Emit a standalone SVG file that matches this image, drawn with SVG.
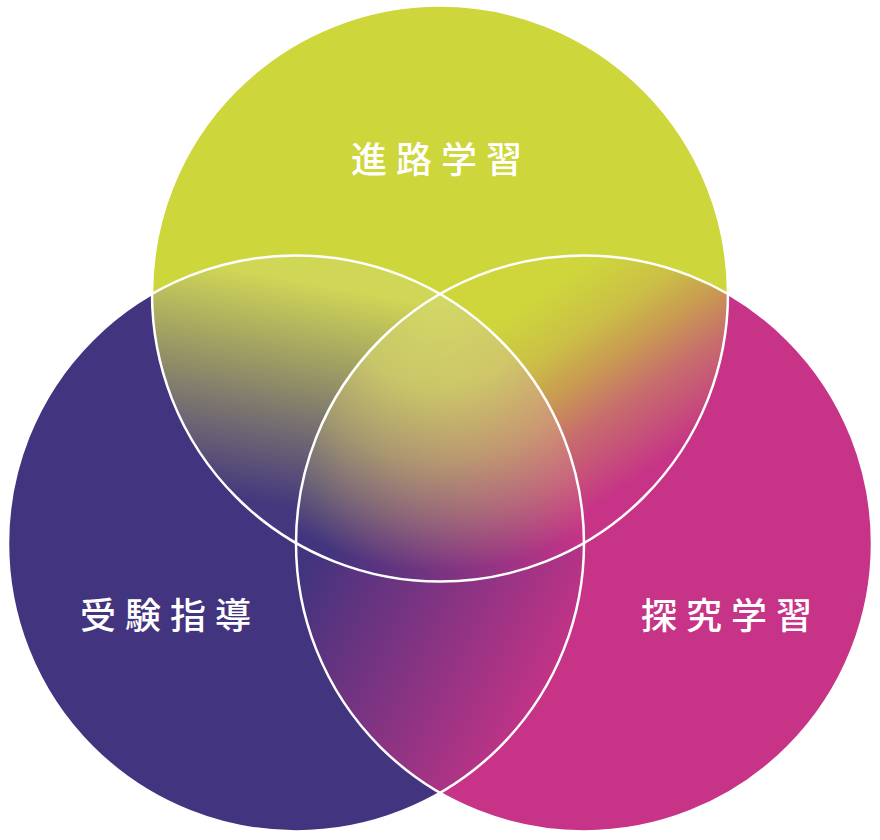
<svg xmlns="http://www.w3.org/2000/svg" width="880" height="840" viewBox="0 0 880 840">
  <style>
    .label { font-family: "Noto Sans CJK JP", "Noto Sans CJK SC", sans-serif; font-size: 36px; font-weight: 500; fill: #ffffff; letter-spacing: 9px; }
    .outline { fill: none; stroke: #ffffff; stroke-width: 2.5; }
  </style>
  <defs>
    <linearGradient id="gTL" gradientUnits="userSpaceOnUse" x1="320" y1="285" x2="280" y2="505">
      <stop offset="0" stop-color="#D0D656"/>
      <stop offset="0.45" stop-color="#918E67"/>
      <stop offset="0.6" stop-color="#7B756F"/>
      <stop offset="1" stop-color="#45387E"/>
    </linearGradient>
    <linearGradient id="gTR" gradientUnits="userSpaceOnUse" x1="593" y1="260" x2="708" y2="433">
      <stop offset="0" stop-color="#CED63C"/>
      <stop offset="0.25" stop-color="#CBC046"/>
      <stop offset="0.45" stop-color="#C99A52"/>
      <stop offset="0.65" stop-color="#C76E6C"/>
      <stop offset="0.85" stop-color="#C64D7B"/>
      <stop offset="1" stop-color="#C63387"/>
    </linearGradient>
    <linearGradient id="gB" gradientUnits="userSpaceOnUse" x1="305" y1="570" x2="554" y2="695">
      <stop offset="0" stop-color="#43347E"/>
      <stop offset="1" stop-color="#C63387"/>
    </linearGradient>
    <linearGradient id="gC" gradientUnits="userSpaceOnUse" x1="330" y1="560" x2="575" y2="500">
      <stop offset="0" stop-color="#43347E"/>
      <stop offset="1" stop-color="#C63387"/>
    </linearGradient>
    <radialGradient id="gY" gradientUnits="userSpaceOnUse" cx="440" cy="290" r="290">
      <stop offset="0" stop-color="#D3DA65" stop-opacity="1"/>
      <stop offset="0.34" stop-color="#D3DA65" stop-opacity="0.88"/>
      <stop offset="0.59" stop-color="#D3DA65" stop-opacity="0.6"/>
      <stop offset="0.79" stop-color="#D3DA65" stop-opacity="0.3"/>
      <stop offset="0.97" stop-color="#D3DA65" stop-opacity="0"/>
    </radialGradient>
  </defs>

  <g id="node-shinro">
    <circle cx="440" cy="293.6" r="288" fill="#CDD63A"/>
    <text class="label" x="351" y="173">進路学習</text>
  </g>
  <g id="node-juken">
    <circle cx="296" cy="543.4" r="288" fill="#42347E"/>
    <text class="label" x="80" y="629">受験指導</text>
  </g>
  <g id="node-tankyu">
    <circle cx="584" cy="543.4" r="288" fill="#C63387"/>
    <text class="label" x="641" y="629">探究学習</text>
  </g>

  <g id="overlaps">
    <path d="M152,293.6 A288,288 0 0 0 296,543.4 A288,288 0 0 1 440,293.6 A288,288 0 0 0 152,293.6 Z" fill="url(#gTL)"/>
    <path d="M440,293.6 A288,288 0 0 1 728,293.6 A288,288 0 0 1 584,543.4 A288,288 0 0 0 440,293.6 Z" fill="url(#gTR)"/>
    <path d="M296,543.4 A288,288 0 0 0 584,543.4 A288,288 0 0 1 440,792.4 A288,288 0 0 1 296,543.4 Z" fill="url(#gB)"/>
    <path d="M440,293.6 A288,288 0 0 1 584,543.4 A288,288 0 0 1 296,543.4 A288,288 0 0 1 440,293.6 Z" fill="url(#gC)"/>
    <path d="M440,293.6 A288,288 0 0 1 584,543.4 A288,288 0 0 1 296,543.4 A288,288 0 0 1 440,293.6 Z" fill="url(#gY)"/>
  </g>

  <g id="connectors">
    <circle class="outline" cx="440" cy="293.6" r="288"/>
    <circle class="outline" cx="296" cy="543.4" r="288"/>
    <circle class="outline" cx="584" cy="543.4" r="288"/>
  </g>
</svg>
